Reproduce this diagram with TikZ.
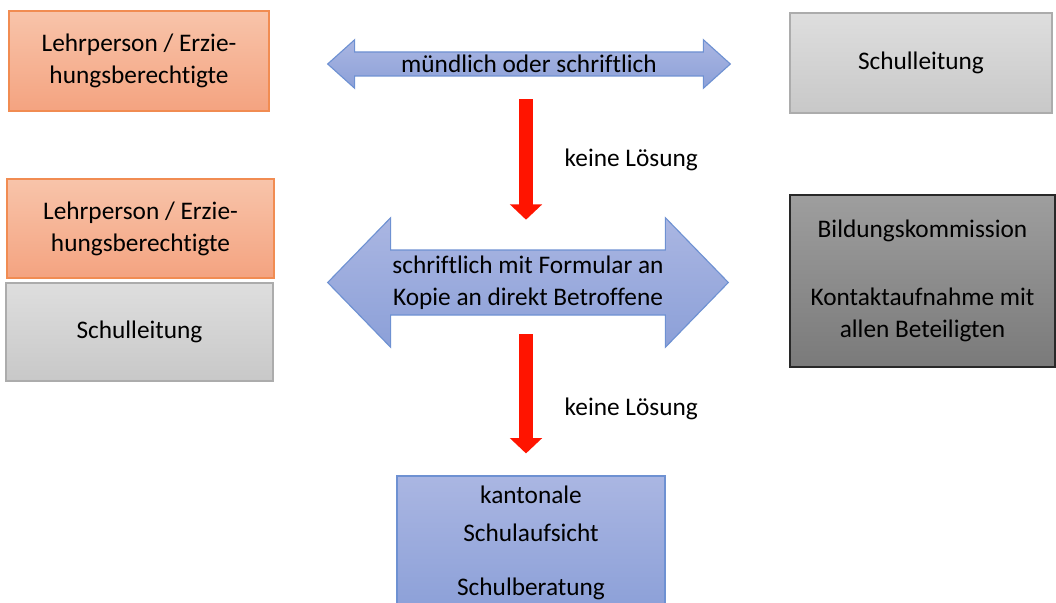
\documentclass[tikz,border=0pt]{standalone}
\usepackage{fontspec}
\setmainfont{Carlito}[Ligatures=NoCommon]
\usepackage{tikz}
\usetikzlibrary{calc}
\usetikzlibrary{arrows.meta}
\usetikzlibrary{backgrounds}
\usepackage{color}

\definecolor{orangehaut}{RGB}{248,196,170}
\definecolor{orangebas}{RGB}{244,163,128}
\definecolor{orangebord}{RGB}{241,140,82}
\definecolor{grishaut}{RGB}{222,222,222}
\definecolor{grisbas}{RGB}{200,200,200}
\definecolor{grisbord}{RGB}{172,172,172}
\definecolor{sombrehaut}{RGB}{158,158,158}
\definecolor{sombrebas}{RGB}{122,122,122}
\definecolor{sombrebord}{RGB}{40,40,40}
\definecolor{bleuhaut}{RGB}{170,182,226}
\definecolor{bleubas}{RGB}{140,160,216}
\definecolor{bleubord}{RGB}{110,145,210}
\definecolor{rougefleche}{RGB}{255,20,0}

\tikzset{
	texte/.style={align=center,font=\fontsize{18}{22.75}\selectfont},
	boite/.style={texte,draw,line width=0.8pt,inner sep=0pt},
	boiteorange/.style={boite,draw=orangebord,top color=orangehaut,bottom color=orangebas},
	boitegrise/.style={boite,draw=grisbord,top color=grishaut,bottom color=grisbas},
	boitesombre/.style={boite,draw=sombrebord,top color=sombrehaut,bottom color=sombrebas},
	boitebleue/.style={boite,draw=bleubord,top color=bleuhaut,bottom color=bleubas},
	fleche/.style={draw=bleubord,line width=0.8pt,top color=bleuhaut,bottom color=bleubas},
	flecherouge/.style={draw=rougefleche,line width=0.35cm,-{Triangle[width=0.78cm,length=0.38cm]}}
}

% #1 : noeud, #2 : longueur de la pointe, #3 : demi-largeur du corps
\newcommand{\flechedouble}[3]{
	\draw[fleche] (#1.west) -- ($(#1.north west)+(#2,0)$) -- ($(#1.west)+(#2,-#3)$)
		-- ($(#1.east)+(-#2,-#3)$) -- ($(#1.north east)+(-#2,0)$) -- (#1.east)
		-- ($(#1.south east)+(-#2,0)$) -- ($(#1.east)+(-#2,#3)$)
		-- ($(#1.west)+(#2,#3)$) -- ($(#1.south west)+(#2,0)$) -- cycle;
}

\begin{document}
\begin{tikzpicture}[x=0.025cm,y=-0.025cm]
%					Cadre :
					\useasboundingbox (0,0) rectangle (1056,603);
					\clip (0,0) rectangle (1056,603);
%					Tracé des boîtes :
					\node[boiteorange,minimum width=6.5cm,minimum height=2.5cm] (lp1) at (139,61) {Lehrperson / Erzie-\\hungsberechtigte};
					\node[boitegrise,minimum width=6.55cm,minimum height=2.5cm] (sl1) at (921,63) {Schulleitung};
					\node[boiteorange,minimum width=6.675cm,minimum height=2.475cm] (lp2) at (140.5,228.5) {Lehrperson / Erzie-\\hungsberechtigte};
					\node[boitegrise,minimum width=6.675cm,minimum height=2.45cm] (sl2) at (139.5,332) {Schulleitung};
					\node[boitesombre,minimum width=6.625cm,minimum height=4.3cm] (bk) at (922.5,281) {Bildungskommission\\[25.6pt]Kontaktaufnahme mit\\allen Beteiligten};
					\node[boitebleue,minimum width=6.7cm,minimum height=3.35cm] (ks) at (531,543) {kantonale\\[4.3pt]Schulaufsicht\\[15.7pt]Schulberatung};
%					Tracé des flèches doubles :
					\node[texte,minimum width=10.05cm,minimum height=1.2cm,inner sep=0pt] (d1) at (529,64) {mündlich oder schriftlich};
					\node[texte,minimum width=10cm,minimum height=3.225cm,inner sep=0pt] (d2) at (528,282.5) {schriftlich mit Formular an\\Kopie an direkt Betroffene};
					\begin{scope}[on background layer]
						\flechedouble{d1}{27}{12}
						\flechedouble{d2}{63}{32.5}
					\end{scope}
%					Tracé des flèches rouges :
					\draw[flecherouge] ([shift={(-3,11)}]d1.south) -- ([shift={(-2,2)}]d2.north)
						node[midway,right=0.675cm,texte]{keine Lösung};
					\draw[flecherouge] ([shift={(-2,-13)}]d2.south) -- ([shift={(-5,-22)}]ks.north)
						node[midway,right=0.675cm,yshift=-0.375cm,texte]{keine Lösung};
\end{tikzpicture}
\end{document}
